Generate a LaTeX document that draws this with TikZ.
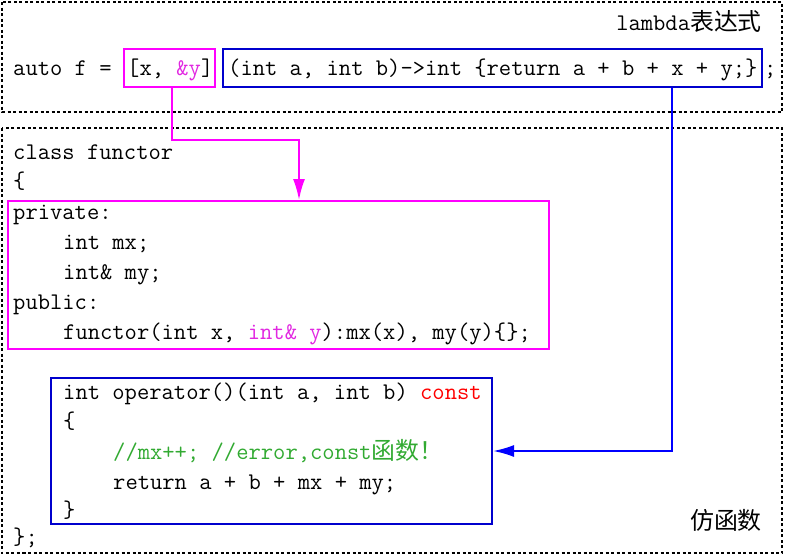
\documentclass[tikz,border=0pt]{standalone}
\usepackage{fontspec}
\newfontfamily\cjk{Noto Sans CJK SC}
\usetikzlibrary{arrows.meta}
\definecolor{boxmag}{RGB}{255,0,255}
\definecolor{txtmag}{RGB}{225,40,225}
\definecolor{boxblue}{RGB}{0,0,205}
\definecolor{arrblue}{RGB}{0,0,255}
\definecolor{cmtgreen}{RGB}{50,170,50}
\newcommand{\codefont}{\fontsize{23.9}{30}\selectfont\ttfamily}

\begin{document}
\begin{tikzpicture}[x=1pt, y=-1pt,
    code/.style={anchor=base west, inner sep=0pt, font=\codefont},
    frame/.style={draw, line width=1.2pt, dash pattern=on 3pt off 2.5pt},
    hl/.style={draw, line width=2pt, inner sep=0pt, anchor=north west},
    link/.style={line width=2pt, -{Latex[length=21pt,width=12pt]}}]
    \useasboundingbox (0,0) rectangle (785,555);

    \draw [frame] (2,2) rectangle (782,112);
    \draw [frame] (2,128) rectangle (782,553);

    \node [hl, boxmag, minimum width=91pt, minimum height=38pt] (capbox) at (123,48) {};
    \node [hl, boxblue, minimum width=539pt, minimum height=38pt] (bodybox) at (222,48) {};
    \node [hl, boxmag, minimum width=541pt, minimum height=148pt] (membox) at (7,200) {};
    \node [hl, boxblue, minimum width=441pt, minimum height=146pt] (opbox) at (50,377) {};

    \begin{scope}[every node/.style={code}]
        \node [anchor=base east] (lamlbl) at (762,30) {lambda{\cjk 表达式}};
        \node (autof) at (13,75) {auto f =};
        \node (captxt) at (127,75) {[x, \textcolor{txtmag}{\&y}]};
        \node (bodytxt) at (228,75) {(int a, int b)->int \{return a + b + x + y;\}};
        \node (semi1) at (764,75) {;};

        \node (cls) at (13,159) {class functor};
        \node (clsopen) at (13,188) {\{};
        \node (priv) at (13,219) {private:};
        \node (mx) at (63,249) {int mx;};
        \node (my) at (63,279) {int\& my;};
        \node (pub) at (13,309) {public:};
        \node (ctor) at (63,339) {functor(int x, \textcolor{txtmag}{int\& y}):mx(x), my(y)\{\};};

        \node (op) at (63,399) {int operator()(int a, int b) \textcolor{red}{const}};
        \node (opopen) at (63,428) {\{};
        \node (cmt) at (113,459) {\color{cmtgreen}//mx++; //error,const{\cjk 函数！}};
        \node (ret) at (113,489) {return a + b + mx + my;};
        \node (opclose) at (63,517) {\}};
        \node (clsclose) at (13,544) {\};};
        \node [anchor=base east] (fnlbl) at (762,529) {{\cjk 仿函数}};
    \end{scope}

    \coordinate (capdrop) at (172,140);
    \coordinate (capbend) at (299,140);
    \coordinate (bodybend) at (672,451);
    \draw [link, boxmag] (capdrop |- capbox.south) -- (capdrop) -- (capbend) -- (capbend |- membox.north);
    \draw [link, arrblue] (bodybox.south -| bodybend) -- (bodybend) -- (bodybend -| opbox.east);
\end{tikzpicture}
\end{document}
